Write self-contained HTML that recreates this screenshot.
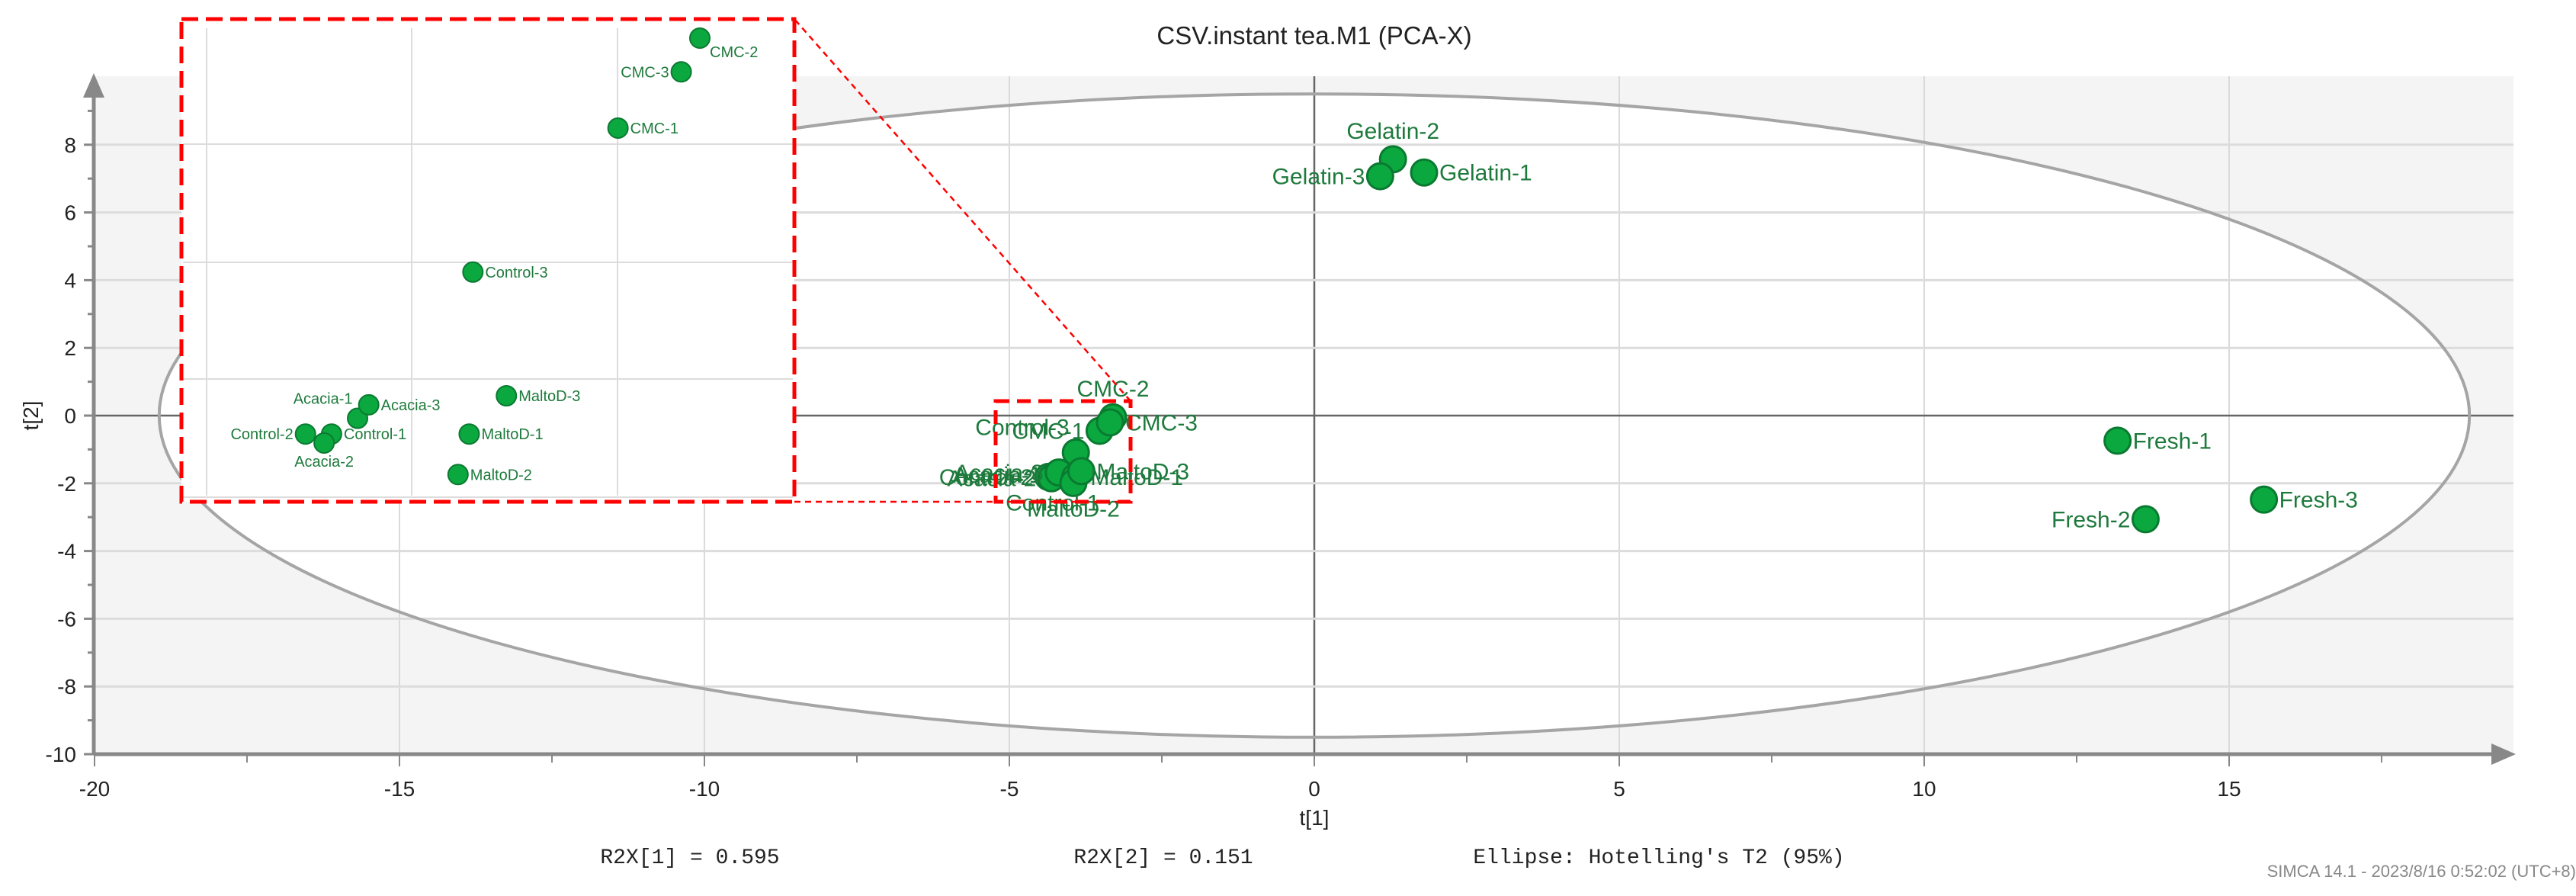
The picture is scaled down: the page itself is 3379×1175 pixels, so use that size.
<!DOCTYPE html>
<html><head><meta charset="utf-8"><style>
html,body{margin:0;padding:0;background:#fff;}
svg{display:block;font-family:"Liberation Sans",sans-serif;}
</style></head><body>
<svg id="chart" width="3379" height="1175" viewBox="0 0 3379 1175" xmlns="http://www.w3.org/2000/svg">
<rect x="0" y="0" width="3379" height="1175" fill="#fff"/>
<rect x="123" y="100" width="3174" height="889" fill="#f4f4f4"/>
<g id="ellfill"></g>
<g id="grid"></g>
<g id="ellipse"></g>
<g id="axes"></g>
<g id="points"></g>
<g id="zoom"></g>
<g id="inset"></g>
<text x="1724" y="58" text-anchor="middle" font-size="33" fill="#222">CSV.instant tea.M1 (PCA-X)</text>
<text x="1724" y="1082" text-anchor="middle" font-size="28" fill="#222">t[1]</text>
<text x="0" y="0" transform="translate(50,545) rotate(-90)" text-anchor="middle" font-size="28" fill="#222">t[2]</text>
<g font-family="Liberation Mono, monospace" font-size="28" fill="#222">
<text x="905" y="1132" text-anchor="middle">R2X[1] = 0.595</text>
<text x="1526" y="1132" text-anchor="middle">R2X[2] = 0.151</text>
<text x="2176" y="1132" text-anchor="middle">Ellipse: Hotelling's T2 (95%)</text>
</g>
<text x="3379" y="1150" text-anchor="end" font-size="22" fill="#888">SIMCA 14.1 - 2023/8/16 0:52:02 (UTC+8)</text>
</svg>
<script>
const sampleNames = ["Gelatin-1","Gelatin-2","Gelatin-3","Fresh-1","Fresh-2","Fresh-3","CMC-1","CMC-2","CMC-3","Control-1","Control-2","Control-3","Acacia-1","Acacia-2","Acacia-3","MaltoD-1","MaltoD-2","MaltoD-3"];
const t1Values = [1.80,1.29,1.08,13.17,13.63,15.57,-3.52,-3.30,-3.35,-4.29,-4.36,-3.91,-4.22,-4.31,-4.19,-3.92,-3.95,-3.82];
const t2Values = [7.18,7.57,7.07,-0.74,-3.06,-2.48,-0.45,-0.05,-0.20,-1.81,-1.81,-1.09,-1.74,-1.85,-1.68,-1.81,-1.99,-1.64];
const xTicks = [-20,-15,-10,-5,0,5,10,15];
const yTicks = [-10,-8,-6,-4,-2,0,2,4,6,8];
const ellipseRadii = [18.94, 9.5];
const mainLabelPos = ["r","t","l","r","l","r","l","t","r","b","l","tl","l","l","l","r","b","r"];
const insetLabelPos = ["r","t","l","r","l","r","r","br","l","r","l","r","tl","b","r","r","r","r"];

const NS="http://www.w3.org/2000/svg";
const X=v=>1724+v*80, Y=v=>545-v*44.4;
const IX=v=>918+(v-(-3.30))*488, IY=v=>50+((-0.05)-v)*295;
function mk(tag,attrs,parent){const e=document.createElementNS(NS,tag);for(const k in attrs)e.setAttribute(k,attrs[k]);parent.appendChild(e);return e;}
const grid=document.getElementById('grid'),axes=document.getElementById('axes'),pts=document.getElementById('points');
const ef=mk('ellipse',{cx:X(0),cy:Y(0),rx:ellipseRadii[0]*80,ry:ellipseRadii[1]*44.4,fill:'#fff'},document.getElementById('ellfill'));


xTicks.forEach(t=>{
  const l=mk('line',{x1:X(t),x2:X(t),y1:100,y2:989,stroke:t===0?'#666':'#dadada','stroke-width':t===0?2.5:2},grid);
  
  
  const k=mk('line',{x1:X(t),x2:X(t),y1:989,y2:1005,stroke:'#888','stroke-width':2},axes);
  
  
  const tx=mk('text',{x:X(t),y:1044,'text-anchor':'middle','font-size':28,fill:'#222'},axes);tx.textContent=t;
  
  
});
for(let v=-17.5;v<=17.5;v+=5){const k=mk('line',{x1:X(v),x2:X(v),y1:989,y2:1000,stroke:'#888','stroke-width':2},axes);
  
  }
yTicks.forEach(t=>{
  const l=mk('line',{x1:123,x2:3297,y1:Y(t),y2:Y(t),stroke:t===0?'#666':'#dcdcdc','stroke-width':t===0?2.5:3},grid);
  
  
  const k=mk('line',{x1:110,x2:123,y1:Y(t),y2:Y(t),stroke:'#888','stroke-width':3},axes);
  
  
  const tx=mk('text',{x:100,y:Y(t)+10,'text-anchor':'end','font-size':28,fill:'#222'},axes);tx.textContent=t;
  
  
});
for(let v=-9;v<=9;v+=2){const k=mk('line',{x1:115,x2:123,y1:Y(v),y2:Y(v),stroke:'#888','stroke-width':3},axes);
  
  }
const ax=mk('line',{x1:123,x2:3280,y1:989,y2:989,stroke:'#888','stroke-width':5},axes);


const ay=mk('line',{x1:123,x2:123,y1:989,y2:115,stroke:'#888','stroke-width':5},axes);


const ar1=mk('polygon',{points:'3300,989 3268,975 3268,1003',fill:'#888'},axes);


const ar2=mk('polygon',{points:'123,96 109,128 137,128',fill:'#888'},axes);


const el=mk('ellipse',{cx:X(0),cy:Y(0),rx:ellipseRadii[0]*80,ry:ellipseRadii[1]*44.4,fill:'none',stroke:'#a5a5a5','stroke-width':4},document.getElementById('ellipse'));



function label(g,x,y,txt,pos,r,fs,cls){
  let dx=0,dy=fs*0.35,anc='middle';
  if(pos==='r'){dx=r+3;anc='start';}
  if(pos==='l'){dx=-r-3;anc='end';}
  if(pos==='t'){dy=-r-10;}
  if(pos==='b'){dy=r+fs*0.9;}
  if(pos==='tl'){dx=-r*0.5;dy=-r-6;anc='end';}
  if(pos==='br'){dx=r;dy=r+fs*0.6;anc='start';}
  const t=mk('text',{x:x+dx,y:y+dy,'text-anchor':anc,'font-size':fs,fill:'#1e7a3c'},g);t.textContent=txt;
  
  
}
sampleNames.forEach((n,i)=>{
  const c=mk('circle',{cx:X(t1Values[i]),cy:Y(t2Values[i]),r:17,fill:'#0aa83f',stroke:'#0b7a31','stroke-width':3},pts);
  
  
});
sampleNames.forEach((n,i)=>label(pts,X(t1Values[i]),Y(t2Values[i]),n,mainLabelPos[i],17,30,'point-label'));

const z=document.getElementById('zoom');
const zb=mk('rect',{x:1306,y:526,width:177,height:132,fill:'none',stroke:'#f00','stroke-width':5,'stroke-dasharray':'18 10'},z);


const zl1=mk('line',{x1:1483,y1:526,x2:1042,y2:25,stroke:'#f00','stroke-width':2.5,'stroke-dasharray':'8 6'},z);


const zl2=mk('line',{x1:1042,y1:658,x2:1470,y2:658,stroke:'#f00','stroke-width':2.5,'stroke-dasharray':'8 6'},z);



const ins=document.getElementById('inset');
const ib=mk('rect',{x:238,y:25,width:804,height:633,fill:'#fff'},ins);


[271,540,810].forEach(x=>{const l=mk('line',{x1:x,x2:x,y1:37,y2:650,stroke:'#dcdcdc','stroke-width':2},ins);
  
  });
[189,344,497,652].forEach(y=>{const l=mk('line',{x1:240,x2:1040,y1:y,y2:y,stroke:'#dcdcdc','stroke-width':2},ins);
  
  });
sampleNames.forEach((n,i)=>{
  const x=IX(t1Values[i]),y=IY(t2Values[i]);
  if(x<238||x>1042||y<25||y>658)return;
  const c=mk('circle',{cx:x,cy:y,r:13,fill:'#0aa83f',stroke:'#0b7a31','stroke-width':2},ins);
  
  
  label(ins,x,y,n,insetLabelPos[i],13,20,'inset-point-label');
});
const ibr=mk('rect',{x:238,y:25,width:804,height:633,fill:'none',stroke:'#f00','stroke-width':5,'stroke-dasharray':'22 10'},ins);


</script>
</body></html>
